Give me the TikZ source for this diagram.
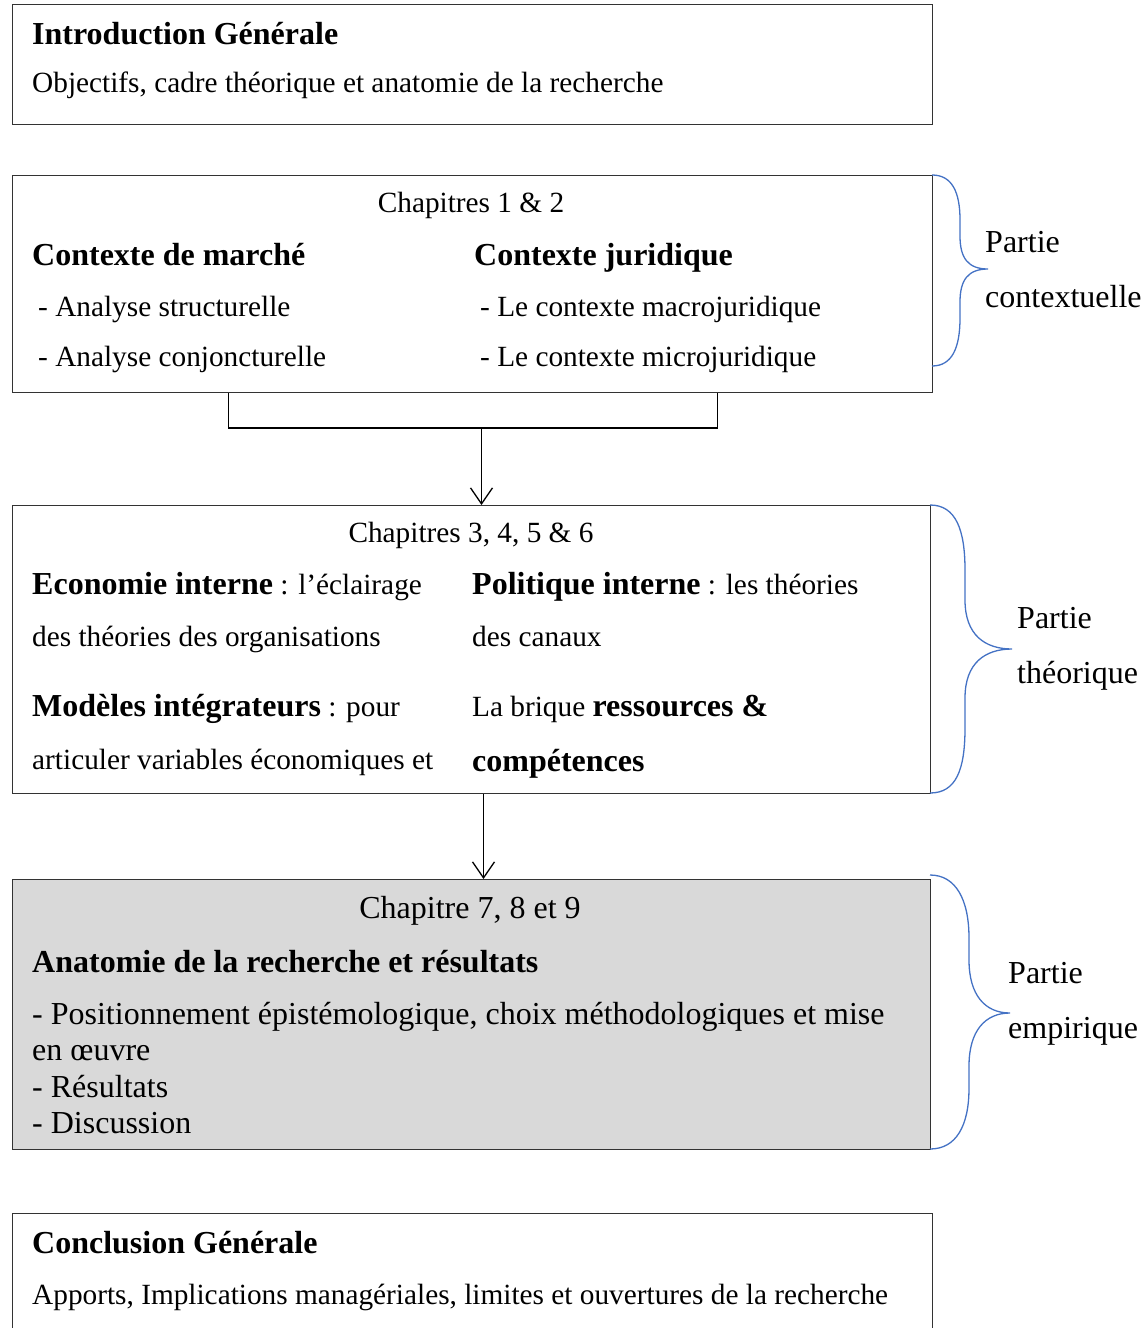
\documentclass[tikz,border=0pt]{standalone}
\usepackage{fontspec}
\setmainfont{Liberation Serif}
\usetikzlibrary{arrows.meta,positioning}
\definecolor{braceblue}{RGB}{68,114,196}
\definecolor{boxgrey}{RGB}{217,217,217}
\newcommand{\hdf}{\fontsize{32}{35}\selectfont\bfseries}
\newcommand{\txf}{\fontsize{29.3}{33}\selectfont}
\newcommand{\bgf}{\fontsize{32}{35}\selectfont}

\begin{document}
\begin{tikzpicture}[x=1pt,y=-1pt,
  box/.style={draw=black!80,line width=1pt,minimum width=920pt,anchor=north west,inner sep=0pt},
  txt/.style={anchor=base west,inner sep=0pt,font=\txf},
  ctr/.style={anchor=base,inner sep=0pt,font=\txf},
  hd/.style={anchor=base west,inner sep=0pt,font=\hdf},
  brc/.style={draw=braceblue,line width=1.3pt},
  lnk/.style={draw=black,line width=1.3pt},
  arr/.style={lnk,-{Straight Barb[length=16pt,width=22pt,line width=1.3pt]}}]
\useasboundingbox (0,0) rectangle (1146,1328);
% boxes
\node[box,minimum height=120pt] (intro) at (12,4) {};
\node[box,minimum height=217pt] (ctx) at (12,175) {};
\node[box,minimum width=918pt,minimum height=288pt] (theo) at (12,505) {};
\node[box,minimum width=918pt,minimum height=270pt,fill=boxgrey] (emp) at (12,879) {};
\node[box,minimum height=140pt] (concl) at (12,1213) {};
% introduction
\node[hd] (introh) at (32,44) {Introduction Générale};
\node[txt] (introt) at (32,92) {Objectifs, cadre théorique et anatomie de la recherche};
% chapitres 1 & 2
\node[ctr] (ch12) at (471,212) {Chapitres 1 \& 2};
\node[hd] (marche) at (32,265) {Contexte de marché};
\node[txt] (m1) at (38,316) {- Analyse structurelle};
\node[txt] (m2) at (38,366) {- Analyse conjoncturelle};
\node[hd] (jur) at (474,265) {Contexte juridique};
\node[txt] (j1) at (480,316) {- Le contexte macrojuridique};
\node[txt] (j2) at (480,366) {- Le contexte microjuridique};
% chapitres 3 a 6
\node[ctr] (ch36) at (471,542) {Chapitres 3, 4, 5 \& 6};
\node[txt] (eco1) at (32,594) {{\hdf Economie interne} : l’éclairage};
\node[txt] (eco2) at (32,646) {des théories des organisations};
\node[txt] (mod1) at (32,716) {{\hdf Modèles intégrateurs} : pour};
\node[txt] (mod2) at (32,769) {articuler variables économiques et};
\node[txt] (pol1) at (472,594) {{\hdf Politique interne} : les théories};
\node[txt] (pol2) at (472,646) {des canaux};
\node[txt] (res1) at (472,716) {La brique {\hdf ressources \&}};
\node[hd] (res2) at (472,771) {compétences};
% chapitres 7 a 9
\node[ctr,font=\bgf] (ch79) at (470,918) {Chapitre 7, 8 et 9};
\node[hd] (anat) at (32,972) {Anatomie de la recherche et résultats};
\node[txt,font=\bgf] (e1) at (32,1024) {- Positionnement épistémologique, choix méthodologiques et mise};
\node[txt,font=\bgf] (e2) at (32,1060) {en œuvre};
\node[txt,font=\bgf] (e3) at (32,1097) {- Résultats};
\node[txt,font=\bgf] (e4) at (32,1133) {- Discussion};
% conclusion
\node[hd] (conclh) at (32,1253) {Conclusion Générale};
\node[txt] (conclt) at (32,1304) {Apports, Implications managériales, limites et ouvertures de la recherche};
% connectors
\coordinate (fork) at (481.5,428);
\draw[lnk] ([xshift=-244pt]ctx.south) |- (fork) -| ([xshift=245pt]ctx.south);
\draw[arr] (fork) -- (fork |- theo.north);
\draw[arr] ([xshift=12pt]theo.south) -- ([xshift=12pt]emp.north);
% braces
\draw[brc] (932,175) .. controls (952,175) and (960,192) .. (960,220) -- (960,236)
  .. controls (960,258) and (968,269) .. (988,269)
  .. controls (968,269) and (960,280) .. (960,302) -- (960,318)
  .. controls (960,348) and (952,366) .. (932,366);
\draw[brc] (930,505) .. controls (956,505) and (965,530) .. (965,570) -- (965,600)
  .. controls (965,635) and (985,649) .. (1012,649)
  .. controls (985,649) and (965,663) .. (965,698) -- (965,728)
  .. controls (965,770) and (956,793) .. (930,793);
\draw[brc] (930,875) .. controls (956,875) and (969,900) .. (969,938) -- (969,960)
  .. controls (969,995) and (985,1013) .. (1010,1013)
  .. controls (985,1013) and (969,1031) .. (969,1066) -- (969,1088)
  .. controls (969,1126) and (956,1149) .. (930,1149);
\node[txt,font=\bgf] (p1a) at (985,252) {Partie};
\node[txt,font=\bgf] (p1b) at (985,307) {contextuelle};
\node[txt,font=\bgf] (p2a) at (1017,628) {Partie};
\node[txt,font=\bgf] (p2b) at (1017,683) {théorique};
\node[txt,font=\bgf] (p3a) at (1008,983) {Partie};
\node[txt,font=\bgf] (p3b) at (1008,1038) {empirique};
\end{tikzpicture}
\end{document}
